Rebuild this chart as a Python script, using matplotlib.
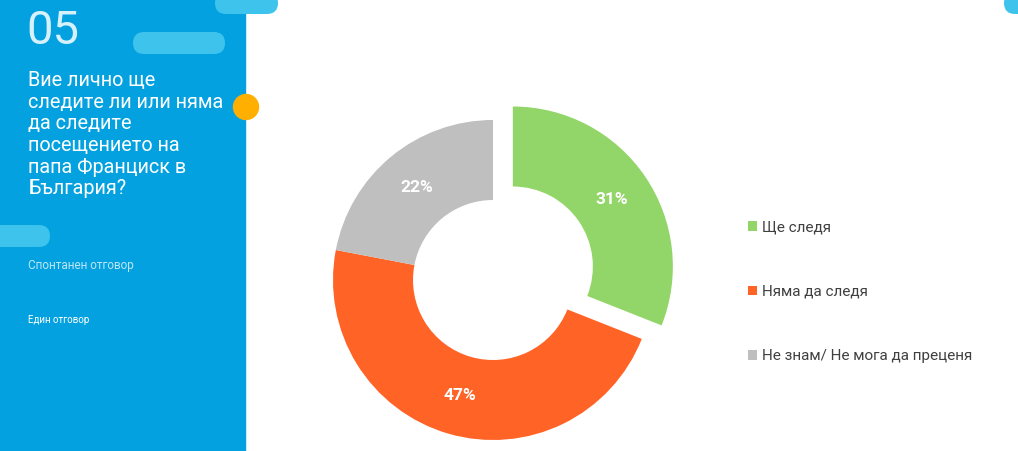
import matplotlib.pyplot as plt
from matplotlib.patches import FancyBboxPatch, Circle, Rectangle

plt.rcParams['font.family'] = ['Roboto', 'DejaVu Sans']

labels = ["Ще следя", "Няма да следя", "Не знам/ Не мога да преценя"]
values = [31, 47, 22]
colors = ["#92D568", "#FF6326", "#BFBFBF"]
explode = [0.15, 0, 0]

question = "Вие лично ще\nследите ли или няма\nда следите\nпосещението на\nпапа Франциск в\nБългария?"

W, H = 1018, 451
fig = plt.figure(figsize=(W / 100, H / 100), dpi=100)

# background layer in pixel coords
bg = fig.add_axes([0, 0, 1, 1])
bg.set_xlim(0, W)
bg.set_ylim(H, 0)
bg.axis("off")

blue = "#03A1E0"
pill = "#3DC3EC"
bg.add_patch(Rectangle((0, 0), 245, H, color=blue, zorder=1))


def add_pill(x, y, w, h):
    bg.add_patch(FancyBboxPatch((x + h / 2, y + h / 2), w - h, 0,
                                boxstyle=f"round,pad={h / 2}",
                                color=pill, lw=0, zorder=2))


add_pill(215, -8, 63, 22)
add_pill(133, 32, 92, 22)
add_pill(-30, 225, 80, 22)
add_pill(1004, -8, 40, 22)
bg.add_patch(Circle((246, 107), 12.5, color="#FFAF00", zorder=3))

bg.text(26, 31, "05", color="#D6F1FB", fontsize=34, fontweight="normal",
        va="center", ha="left", zorder=4)
bg.text(28, 71, question, color="white", fontsize=14.3, va="top", ha="left",
        linespacing=1.18, zorder=4)
bg.text(28, 266, "Спонтанен отговор", color="#BDE6F8", fontsize=8.5,
        va="center", ha="left", zorder=4)
bg.text(28, 320, "Един отговор", color="white", fontsize=7,
        va="center", ha="left", zorder=4)

# donut
cx, cy, r = 493, 280, 160
half = 190
ax = fig.add_axes([(cx - half) / W, 1 - (cy + half) / H, 2 * half / W, 2 * half / H])
lim = half / r
wedges, _, autotexts = ax.pie(values, colors=colors, explode=explode, startangle=90,
                              counterclock=False, radius=1,
                              wedgeprops=dict(width=0.5, linewidth=0),
                              autopct="%d%%", pctdistance=0.75,
                              textprops=dict(color="white", fontsize=12.5, fontweight="bold"))
ax.set_xlim(-lim, lim)
ax.set_ylim(-lim, lim)
ax.axis("off")

fig.legend(wedges, labels, loc="center left", bbox_to_anchor=(740 / W, 1 - 292 / H),
           frameon=False, fontsize=11, labelcolor="#404040", labelspacing=3.3,
           handlelength=0.6, handleheight=0.6, handletextpad=0.35, borderpad=0)

fig.savefig("out.png", dpi=100, facecolor="white")
